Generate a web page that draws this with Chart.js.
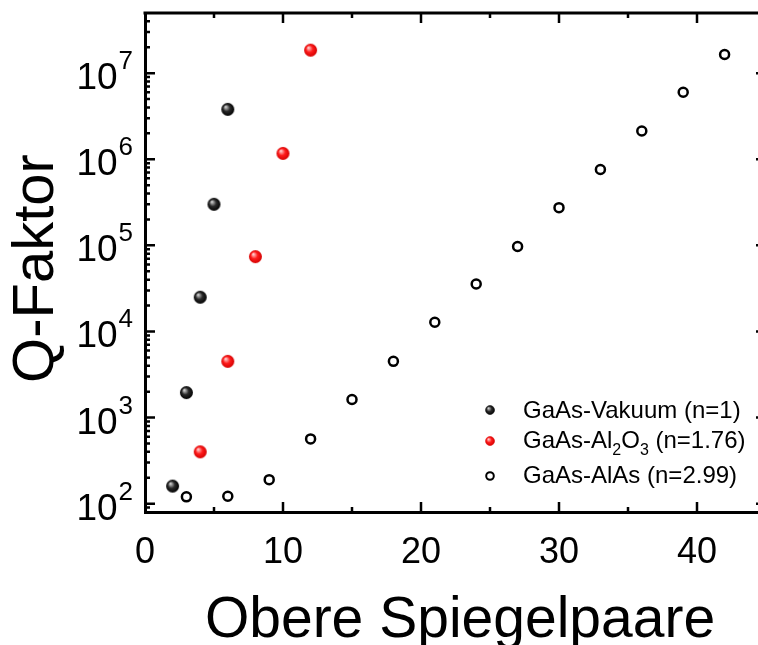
<!DOCTYPE html>
<html lang="de">
<head>
<meta charset="utf-8">
<title>Q-Faktor über obere Spiegelpaare</title>
<script src="https://cdn.jsdelivr.net/npm/chart.js@4.4.1/dist/chart.umd.min.js"></script>
<style>
  html, body { margin: 0; padding: 0; background: #fff; overflow: hidden; }
  #grafik { position: absolute; left: 0; top: 0; }
</style>
</head>
<body>
<canvas id="grafik" width="780" height="645"></canvas>
<script>
// Obere Spiegelpaare (x) und Q-Faktor (y) je Materialkombination
const paareVakuum = [2, 3, 4, 5, 6];
const qVakuum = [160, 1950, 25000, 300000, 3800000];

const paareAl2O3 = [4, 6, 8, 10, 12];
const qAl2O3 = [400, 4500, 74000, 1170000, 18500000];

const paareAlAs = [3, 6, 9, 12, 15, 18, 21, 24, 27, 30, 33, 36, 39, 42];
const qAlAs = [120, 122, 190, 565, 1620, 4500, 12800, 35600, 97000, 274000, 760000, 2130000, 6000000, 16500000];

// Achsenbeschriftung
const xTicks = [0, 10, 20, 30, 40];
const yExponenten = [2, 3, 4, 5, 6, 7];

// Legendentexte, Teile mit 'sub' werden tiefgestellt
const legendeVakuum = [['GaAs-Vakuum (n=1)']];
const legendeAl2O3 = [['GaAs-Al'], ['2', 'sub'], ['O'], ['3', 'sub'], [' (n=1.76)']];
const legendeAlAs = [['GaAs-AlAs (n=2.99)']];

const SCHRIFT = '"Liberation Sans", Arial, sans-serif';

// Kugel-Symbol mit Glanzlicht (radialer Verlauf)
function kugel(radius, hell, mitte, rand) {
    const c = document.createElement('canvas');
    const s = Math.ceil(radius * 2 + 2);
    c.width = s;
    c.height = s;
    const g = c.getContext('2d');
    const m = s / 2;
    const grad = g.createRadialGradient(m - radius * 0.35, m - radius * 0.4, radius * 0.05, m, m, radius);
    grad.addColorStop(0, hell);
    grad.addColorStop(0.5, mitte);
    grad.addColorStop(1, rand);
    g.fillStyle = grad;
    g.beginPath();
    g.arc(m, m, radius, 0, Math.PI * 2);
    g.fill();
    return c;
}

const kugelSchwarz = kugel(6.5, '#d8d8d8', '#2a2a2a', '#000000');
const kugelRot = kugel(6.5, '#ffd6d6', '#ff1c1c', '#d40000');

function punkte(xs, ys) {
    return xs.map((x, i) => ({ x: x, y: ys[i] }));
}

// Rahmen, Ticks nach innen, y-Beschriftung mit Exponent, Titel und Legende
const rahmenPlugin = {
    id: 'rahmen',
    afterDraw(chart) {
        const ctx = chart.ctx;
        const a = chart.chartArea;
        const xs = chart.scales.x;
        const ys = chart.scales.y;

        ctx.save();
        ctx.strokeStyle = '#000';
        ctx.fillStyle = '#000';

        // obere und rechte Rahmenlinie
        ctx.lineWidth = 3;
        ctx.beginPath();
        ctx.moveTo(a.left - 1.5, a.top);
        ctx.lineTo(a.right, a.top);
        ctx.lineTo(a.right, a.bottom + 1.5);
        ctx.stroke();

        // x-Ticks unten und oben
        ctx.lineWidth = 2.5;
        for (let v = 5; v < xs.max; v += 5) {
            const px = xs.getPixelForValue(v);
            const len = v % 10 === 0 ? 10 : 5;
            ctx.beginPath();
            ctx.moveTo(px, a.bottom);
            ctx.lineTo(px, a.bottom - len);
            ctx.moveTo(px, a.top);
            ctx.lineTo(px, a.top + len);
            ctx.stroke();
        }

        // y-Ticks links und rechts (logarithmisch)
        for (let n = 1; n <= 8; n++) {
            for (let d = 1; d <= 9; d++) {
                const v = d * Math.pow(10, n);
                if (v <= ys.min || v >= ys.max) continue;
                const py = ys.getPixelForValue(v);
                const len = d === 1 ? 10 : 5;
                ctx.beginPath();
                ctx.moveTo(a.left, py);
                ctx.lineTo(a.left + len, py);
                ctx.moveTo(a.right, py);
                ctx.lineTo(a.right - len, py);
                ctx.stroke();
            }
        }

        // y-Beschriftung 10^n
        ctx.textBaseline = 'alphabetic';
        ctx.textAlign = 'right';
        yExponenten.forEach(n => {
            const py = ys.getPixelForValue(Math.pow(10, n));
            const xr = a.left - 12;
            ctx.font = '26px ' + SCHRIFT;
            const expBreite = ctx.measureText(String(n)).width;
            ctx.fillText(String(n), xr, py - 4);
            ctx.font = '37px ' + SCHRIFT;
            ctx.fillText('10', xr - expBreite - 1, py + 16);
        });

        // Achsentitel
        ctx.textAlign = 'center';
        ctx.font = '57px ' + SCHRIFT;
        ctx.fillText('Obere Spiegelpaare', a.left + 315, 637);

        ctx.save();
        ctx.translate(53, (a.top + a.bottom) / 2 + 6);
        ctx.rotate(-Math.PI / 2);
        ctx.font = '58px ' + SCHRIFT;
        ctx.fillText('Q-Faktor', 0, 0);
        ctx.restore();

        // Legende
        const symX = a.left + 345;
        const textX = a.left + 378;
        const zeilen = [
            { teile: legendeVakuum, symY: a.bottom - 102, basis: a.bottom - 94, bild: kugelSchwarz },
            { teile: legendeAl2O3, symY: a.bottom - 71, basis: a.bottom - 64, bild: kugelRot },
            { teile: legendeAlAs, symY: a.bottom - 36, basis: a.bottom - 29, bild: null }
        ];
        ctx.textAlign = 'left';
        zeilen.forEach(z => {
            if (z.bild) {
                ctx.drawImage(z.bild, symX - 5.5, z.symY - 5.5, 11, 11);
            } else {
                ctx.lineWidth = 2;
                ctx.beginPath();
                ctx.arc(symX, z.symY, 3.8, 0, Math.PI * 2);
                ctx.stroke();
            }
            let x = textX;
            z.teile.forEach(([text, art]) => {
                if (art === 'sub') {
                    ctx.font = '16px ' + SCHRIFT;
                    ctx.fillText(text, x, z.basis + 7);
                } else {
                    ctx.font = '24px ' + SCHRIFT;
                    ctx.fillText(text, x, z.basis);
                }
                x += ctx.measureText(text).width;
            });
        });

        ctx.restore();
    }
};

const ctx = document.getElementById('grafik').getContext('2d');

new Chart(ctx, {
    type: 'scatter',
    data: {
        datasets: [
            {
                label: 'GaAs-Vakuum (n=1)',
                data: punkte(paareVakuum, qVakuum),
                pointStyle: kugelSchwarz,
                pointRadius: 6.5
            },
            {
                label: 'GaAs-Al2O3 (n=1.76)',
                data: punkte(paareAl2O3, qAl2O3),
                pointStyle: kugelRot,
                pointRadius: 6.5
            },
            {
                label: 'GaAs-AlAs (n=2.99)',
                data: punkte(paareAlAs, qAlAs),
                pointStyle: 'circle',
                pointRadius: 4.5,
                borderWidth: 2.5,
                borderColor: '#000',
                backgroundColor: 'rgba(255,255,255,0)'
            }
        ]
    },
    options: {
        responsive: false,
        animation: false,
        layout: {
            padding: { top: 13, right: 14, left: 0, bottom: 0 }
        },
        scales: {
            x: {
                type: 'linear',
                min: 0,
                max: 45,
                afterBuildTicks: scale => {
                    scale.ticks = xTicks.map(v => ({ value: v }));
                },
                afterFit: scale => {
                    scale.height = 133;
                },
                ticks: {
                    color: '#000',
                    padding: 11,
                    maxRotation: 0,
                    font: { size: 36, family: SCHRIFT }
                },
                grid: { display: false },
                border: { display: true, color: '#000', width: 3 }
            },
            y: {
                type: 'logarithmic',
                min: 80,
                max: 5e7,
                afterFit: scale => {
                    scale.width = 145;
                },
                ticks: { display: false },
                grid: { display: false },
                border: { display: true, color: '#000', width: 3 }
            }
        },
        plugins: {
            legend: { display: false },
            tooltip: { enabled: false }
        }
    },
    plugins: [rahmenPlugin]
});
</script>
</body>
</html>
